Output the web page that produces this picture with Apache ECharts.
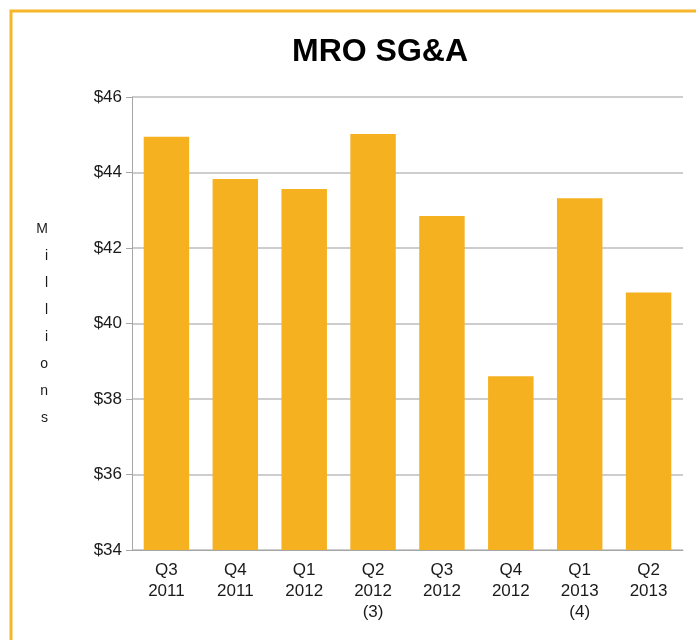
<!DOCTYPE html>
<html lang="en">
<head>
    <meta charset="UTF-8">
    <title>MRO SG&amp;A</title>
    <script src="https://cdn.jsdelivr.net/npm/echarts@6/dist/echarts.min.js"></script>
    <style>
        html, body { margin: 0; padding: 0; background: #fff; }
    </style>
</head>
<body>
<div id="main" style="width: 696px;height:640px;"></div>
<script type="text/javascript">
    // quarters and SG&A values (millions)
    var quarters = ['Q3\n2011', 'Q4\n2011', 'Q1\n2012', 'Q2\n2012\n(3)', 'Q3\n2012', 'Q4\n2012', 'Q1\n2013\n(4)', 'Q2\n2013'];
    var sgaValues = [44.95, 43.83, 43.56, 45.02, 42.85, 38.6, 43.32, 40.82];
    var yTicks = [34, 36, 38, 40, 42, 44, 46];

    var myChart = echarts.init(document.getElementById('main'));

    myChart.setOption({
        animation: false,
        textStyle: { fontFamily: 'Liberation Sans, Arial, sans-serif' },
        title: {
            text: 'MRO SG&A',
            left: 375,
            top: 31,
            textAlign: 'center',
            textStyle: { fontSize: 32, fontWeight: 'bold', color: '#000' }
        },
        graphic: [{
            type: 'rect',
            shape: { x: 11, y: 11, width: 800, height: 800 },
            style: { fill: 'none', stroke: '#F7B52A', lineWidth: 3 }
        }],
        grid: { left: 132, right: 13, top: 97, bottom: 90 },
        xAxis: {
            type: 'category',
            data: quarters,
            axisLine: { lineStyle: { color: '#A6A6A6', width: 1 } },
            axisTick: { length: 5, lineStyle: { color: '#A6A6A6' } },
            axisLabel: { color: '#1a1a1a', fontSize: 17, lineHeight: 21, margin: 10, interval: 0 }
        },
        yAxis: {
            type: 'value',
            min: yTicks[0],
            max: yTicks[yTicks.length - 1],
            interval: 2,
            name: 'M\ni\nl\nl\ni\no\nn\ns',
            nameLocation: 'middle',
            nameRotate: 0,
            nameGap: 84,
            nameTextStyle: { fontSize: 14, lineHeight: 27, color: '#1a1a1a' },
            axisLine: { show: true, lineStyle: { color: '#A6A6A6', width: 1 } },
            axisTick: { show: true, length: 6, lineStyle: { color: '#A6A6A6' } },
            splitLine: { lineStyle: { color: '#BDBDBD', width: 1.5 } },
            axisLabel: {
                color: '#1a1a1a', fontSize: 17, margin: 10,
                formatter: function (v) { return '$' + v; }
            }
        },
        series: [{
            name: 'SG&A',
            type: 'bar',
            data: sgaValues,
            barCategoryGap: '34%',
            itemStyle: { color: '#F5B120' }
        }]
    });
</script>
</body>
</html>
